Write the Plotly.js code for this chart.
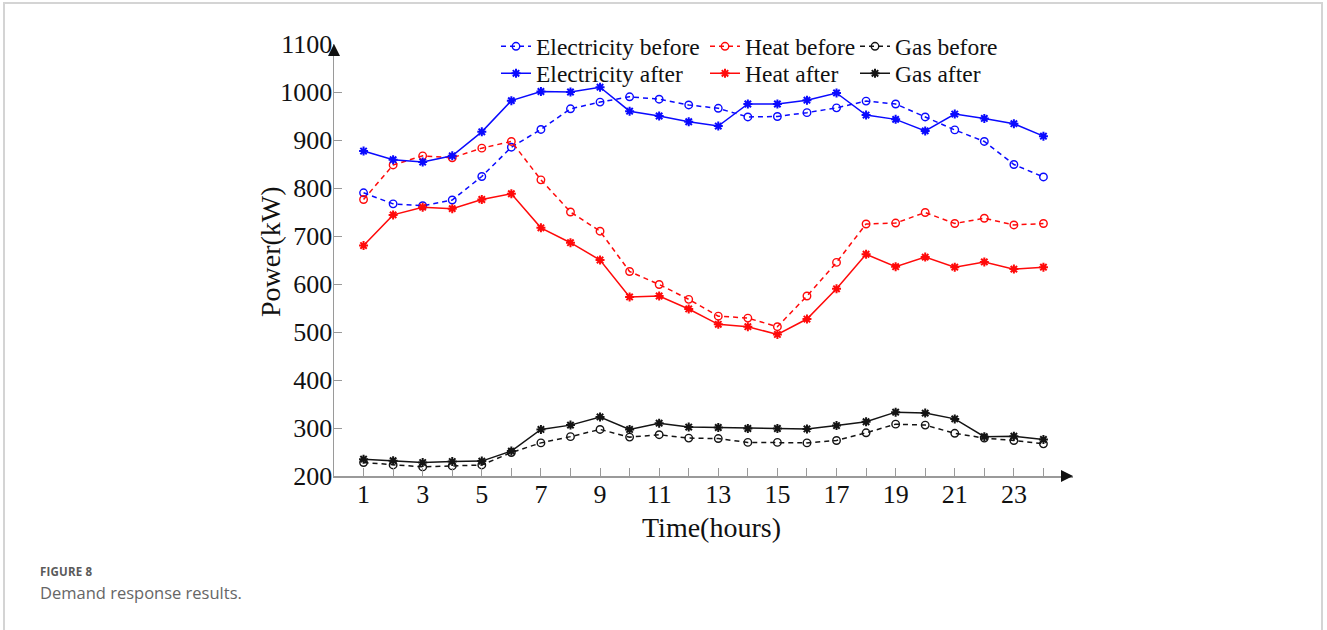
<!DOCTYPE html>
<html>
<head>
<meta charset="utf-8">
<script src="https://cdn.plot.ly/plotly-3.0.1.min.js"></script>
<style>
  html, body { margin: 0; padding: 0; background: #fff; }
  #wrap { position: relative; width: 1327px; height: 630px; overflow: hidden; }
  #frame { position: absolute; left: 3px; top: 2px; width: 1320px; height: 700px;
           border: 2px solid #d4d4d4; box-sizing: border-box; }
  #chart { position: absolute; left: 0; top: 0; width: 1327px; height: 630px; }
  #cap1 { position: absolute; left: 40px; top: 564px; font-family: "Open Sans", sans-serif;
          font-weight: bold; font-size: 11.5px; color: #5a5a5a; letter-spacing: 0.2px; }
  #cap2 { position: absolute; left: 40px; top: 581px; font-family: "Open Sans", sans-serif;
          font-size: 16.5px; color: #666; }
</style>
</head>
<body>
<div id="wrap">
  <div id="frame"></div>
  <div id="chart"></div>
  <div id="cap1">FIGURE 8</div>
  <div id="cap2">Demand response results.</div>
</div>
<script>
// ---- data ----
const hours = [1,2,3,4,5,6,7,8,9,10,11,12,13,14,15,16,17,18,19,20,21,22,23,24];
const hourLabels = ['1','','3','','5','','7','','9','','11','','13','','15','','17','','19','','21','','23',''];
const elecBefore = [790,767,763,775,824,885,922,965,979,990,985,973,966,948,949,957,967,981,975,948,921,897,849,823];
const heatBefore = [776,848,867,863,883,897,817,750,710,626,599,568,533,529,511,575,645,725,727,749,726,737,723,726];
const gasBefore  = [228,223,219,221,223,249,269,282,297,281,286,279,278,270,270,269,274,290,308,306,289,279,274,267];
const elecAfter  = [877,859,854,867,917,982,1001,1000,1010,960,950,938,929,975,975,983,998,952,943,919,954,945,934,908];
const heatAfter  = [680,744,760,757,776,788,717,686,650,573,575,548,516,511,495,527,590,662,636,656,635,646,631,635];
const gasAfter   = [235,232,228,230,231,252,297,306,323,297,310,302,301,299,299,298,305,313,333,331,319,282,283,276];
const yTicks = [200,300,400,500,600,700,800,900,1000,1100];

const BLUE = 'rgb(10,10,255)', RED = 'rgb(255,10,10)', BLACK = 'rgb(20,20,20)';
const serif = 'Liberation Serif, Times New Roman, serif';

function beforeTrace(name, y, color, legend) {
  return { x: hours, y: y, name: name, type: 'scatter', mode: 'lines+markers', legend: legend,
    line: { color: color, width: 1.5, dash: '5px,4px' },
    marker: { symbol: 'circle-open', size: 7.5, color: color, line: { color: color, width: 1.4 } } };
}
function afterTrace(name, y, color, legend) {
  return { x: hours, y: y, name: name, type: 'scatter', mode: 'lines+markers', legend: legend,
    line: { color: color, width: 1.5 },
    marker: { symbol: 'asterisk-open', size: 7.5, color: color, line: { color: color, width: 2 } } };
}

const traces = [
  beforeTrace('Electricity before', elecBefore, BLUE, 'legend'),
  beforeTrace('Heat before', heatBefore, RED, 'legend2'),
  beforeTrace('Gas before', gasBefore, BLACK, 'legend3'),
  afterTrace('Electricity after', elecAfter, BLUE, 'legend4'),
  afterTrace('Heat after', heatAfter, RED, 'legend5'),
  afterTrace('Gas after', gasAfter, BLACK, 'legend6')
];

const W = 1327, H = 630;
function leg(textX, rowY) {
  return { xref: 'container', yref: 'container', x: (textX - 40) / W, y: 1 - rowY / H,
    xanchor: 'left', yanchor: 'middle', orientation: 'v', bgcolor: 'rgba(0,0,0,0)',
    borderwidth: 0, itemwidth: 30, font: { family: serif, size: 23.5, color: '#111' } };
}

function arrow(x, y, ax, ay) {
  return { xref: 'paper', yref: 'paper', x: x, y: y, ax: ax, ay: ay, text: '',
    showarrow: true, arrowhead: 2, arrowsize: 1.6, arrowwidth: 1.5, arrowcolor: '#111' };
}

// plot area in pixels: x 334..1073, y 44..476
const PL = 334, PW = 739, PB = 476, PH = 432;
function titleAnn(text, px, py, angle) {
  return { xref: 'paper', yref: 'paper', x: (px - PL) / PW, y: (PB - py) / PH,
    xanchor: 'center', yanchor: 'middle', text: text, showarrow: false, textangle: angle,
    font: { family: serif, size: 28, color: '#111' } };
}

const layout = {
  width: W, height: H,
  margin: { l: 334, r: 254, t: 44, b: 154, autoexpand: false },
  paper_bgcolor: 'rgba(0,0,0,0)', plot_bgcolor: 'rgba(0,0,0,0)',
  showlegend: true,
  legend: leg(536, 46.5), legend2: leg(745, 46.5), legend3: leg(895, 46.5),
  legend4: leg(536, 73.5), legend5: leg(745, 73.5), legend6: leg(895, 73.5),
  xaxis: {
    range: [0, 25], showgrid: false, zeroline: false, automargin: false,
    showline: true, linecolor: '#9a9a9a', linewidth: 1.5,
    ticks: 'inside', ticklen: 8, tickwidth: 1, tickcolor: '#9a9a9a',
    tickmode: 'array', tickvals: hours, ticktext: hourLabels, ticklabelstandoff: -6,
    tickfont: { family: serif, size: 26, color: '#111' }
  },
  yaxis: {
    range: [200, 1100], showgrid: false, zeroline: false, automargin: false,
    showline: true, linecolor: '#9a9a9a', linewidth: 1.5,
    ticks: 'inside', ticklen: 8, tickwidth: 1, tickcolor: '#9a9a9a',
    tickmode: 'array', tickvals: yTicks, ticklabelstandoff: -5,
    tickfont: { family: serif, size: 26, color: '#111' }
  },
  annotations: [
    arrow(1, 0, -10, 0), arrow(0, 1, 0, 10),
    titleAnn('Time(hours)', 711.5, 527, 0),
    titleAnn('Power(kW)', 270, 252, -90)
  ]
};

Plotly.newPlot('chart', traces, layout, { displayModeBar: false, staticPlot: true });
</script>
</body>
</html>
